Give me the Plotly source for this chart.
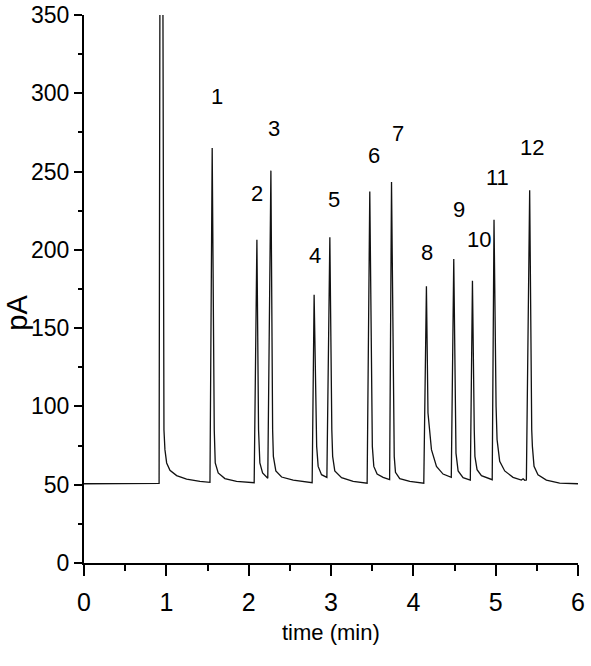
"""Chromatogram (FID signal vs. time) with numbered peaks."""

import plotly.graph_objects as go

# Trace: time (min) and detector signal (pA)
time_min = [
    0.000, 0.900, 0.912, 0.937, 0.971, 0.983, 1.004, 1.044, 1.125, 1.246, 1.408, 1.530,  # solvent
    1.557, 1.582, 1.594, 1.630, 1.711, 1.853, 2.067,  # peak 1
    2.100, 2.120, 2.136, 2.169, 2.232,  # peak 2
    2.270, 2.291, 2.300, 2.330, 2.400, 2.541, 2.771,  # peak 3
    2.795, 2.818, 2.826, 2.844, 2.885, 2.950,  # peak 4
    2.986, 3.010, 3.020, 3.046, 3.128, 3.269, 3.439,  # peak 5
    3.471, 3.494, 3.502, 3.520, 3.560, 3.633, 3.712,  # peak 6
    3.735, 3.760, 3.768, 3.783, 3.835, 3.957, 4.127,  # peak 7
    4.159, 4.178, 4.220, 4.281, 4.361, 4.461,  # peak 8
    4.491, 4.512, 4.518, 4.544, 4.604, 4.692,  # peak 9
    4.718, 4.740, 4.748, 4.774, 4.827, 4.958,  # peak 10
    4.980, 5.005, 5.017, 5.049, 5.110, 5.211, 5.312, 5.333, 5.353, 5.373,  # peak 11
    5.413, 5.438, 5.446, 5.466, 5.514, 5.616, 5.777, 6.000,  # peak 12
]
signal_pA = [
    50.6, 50.6, 50.8, 830.0, 85.1, 72.4, 63.9, 59.2, 55.8, 53.6, 52.1, 51.5,
    265.1, 85.1, 63.9, 57.5, 53.9, 52.1, 51.3,
    206.5, 85.1, 63.9, 57.5, 54.1,
    250.6, 85.0, 68.1, 58.8, 54.9, 52.9, 51.3,
    171.4, 85.0, 74.5, 61.7, 56.4, 54.7,
    208.0, 85.0, 68.1, 58.8, 54.5, 52.1, 51.0,
    237.3, 85.0, 74.5, 61.7, 56.8, 54.7, 53.2,
    243.3, 85.0, 68.1, 57.9, 53.9, 52.1, 51.0,
    176.7, 95.8, 72.4, 61.7, 56.8, 54.7,
    194.2, 85.0, 70.2, 58.8, 54.5, 53.0,
    180.3, 85.0, 68.1, 59.6, 55.8, 53.2,
    219.3, 100.0, 78.8, 65.0, 58.8, 54.7, 53.0, 53.8, 52.8, 53.0,
    238.0, 85.0, 74.5, 61.7, 56.4, 53.0, 51.0, 50.6,
]

# Peak numbers and where their labels sit (data coordinates)
peak_labels = ["1", "2", "3", "4", "5", "6", "7", "8", "9", "10", "11", "12"]
label_t = [1.611, 2.096, 2.306, 2.804, 3.034, 3.524, 3.815, 4.171, 4.551, 4.794, 5.017, 5.441]
label_v = [298.0, 235.7, 277.2, 196.3, 232.0, 260.1, 274.6, 198.0, 225.6, 206.9, 245.9, 265.1]

x_ticks = [0, 1, 2, 3, 4, 5, 6]
y_ticks = [0, 50, 100, 150, 200, 250, 300, 350]

ARIAL = "Liberation Sans, Arial"

fig = go.Figure()

fig.add_trace(
    go.Scatter(
        x=time_min,
        y=signal_pA,
        mode="lines",
        line=dict(color="#111111", width=1.3),
        showlegend=False,
        hoverinfo="skip",
    )
)

for txt, t, v in zip(peak_labels, label_t, label_v):
    fig.add_annotation(
        x=t, y=v, text=txt, showarrow=False,
        font=dict(family=ARIAL, size=22, color="black"),
    )

# axis titles placed by hand
fig.add_annotation(
    xref="paper", yref="paper", x=0.5, y=-0.127, text="time (min)",
    xanchor="center", yanchor="middle",
    showarrow=False, font=dict(family=ARIAL, size=22, color="black"),
)
fig.add_annotation(
    xref="paper", yref="paper", x=-0.1355, y=0.457, text="pA", textangle=-90,
    xanchor="center", yanchor="middle",
    showarrow=False, font=dict(family=ARIAL, size=29, color="black"),
)

fig.update_layout(
    width=591,
    height=666,
    margin=dict(l=84, r=13, t=15, b=103),
    paper_bgcolor="white",
    plot_bgcolor="white",
    xaxis=dict(
        range=[0, 6],
        tickvals=x_ticks,
        automargin=False,
        ticks="outside",
        ticklen=11,
        tickwidth=1.5,
        tickcolor="black",
        showline=True,
        linewidth=2,
        linecolor="black",
        showgrid=False,
        zeroline=False,
        ticklabelstandoff=5,
        ticklabeloverflow="allow",
        tickfont=dict(family=ARIAL, size=25, color="black"),
        minor=dict(dtick=0.5, ticks="outside", ticklen=6, tickwidth=1.5, tickcolor="black"),
    ),
    yaxis=dict(
        range=[0, 350],
        tickvals=y_ticks,
        automargin=False,
        ticks="outside",
        ticklen=8,
        tickwidth=1.5,
        tickcolor="black",
        showline=True,
        linewidth=2,
        linecolor="black",
        showgrid=False,
        zeroline=False,
        ticklabelstandoff=0,
        ticklabeloverflow="allow",
        tickfont=dict(family=ARIAL, size=23, color="black"),
        minor=dict(dtick=25, ticks="outside", ticklen=4, tickwidth=1.5, tickcolor="black"),
    ),
)

# drop the browser's default 8px body margin so the figure fills the window
fig.write_html(
    "out.html",
    config={"displayModeBar": False},
    post_script="document.body.style.margin = '0';",
)
